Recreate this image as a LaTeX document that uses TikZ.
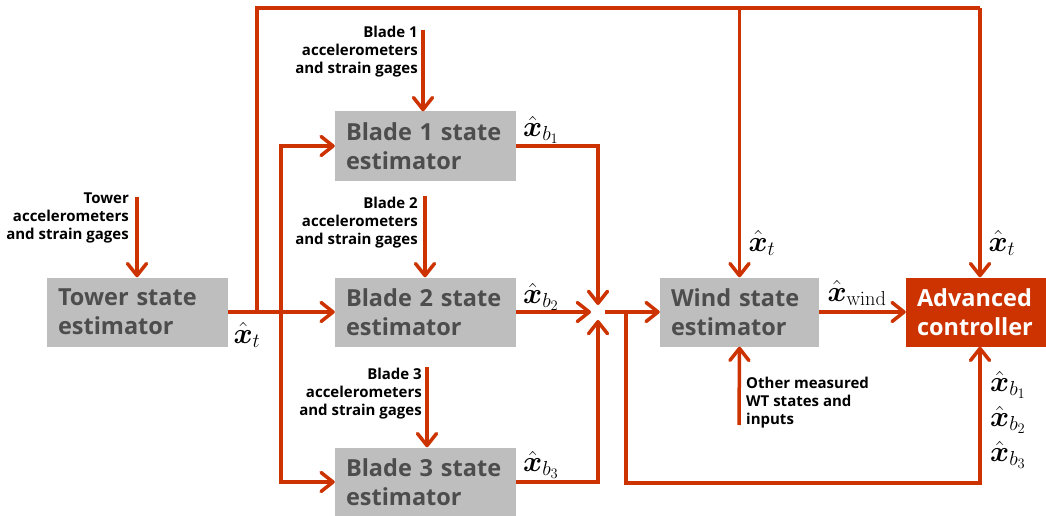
\documentclass[tikz,border=0pt]{standalone}
\usepackage{fix-cm}
\usepackage{amsmath}
\usepackage[no-math]{fontspec}
\setmainfont{Open Sans}
\usetikzlibrary{arrows.meta}
\definecolor{wtred}{RGB}{204,51,0}
\definecolor{boxgray}{RGB}{190,190,190}
\definecolor{boxtext}{RGB}{77,77,77}
\tikzset{
 box/.style={fill=boxgray,text=boxtext,font=\fontsize{23.5}{29}\selectfont\bfseries,align=left,inner xsep=11pt,inner ysep=0pt,minimum height=69pt,anchor=center},
 ctrlbox/.style={box,fill=wtred,text=white},
 sig/.style={draw=wtred,line width=3.5pt},
 arr/.style={sig,-{Straight Barb[length=12pt,width=19pt,round]}},
 sensor/.style={font=\fontsize{15}{18}\selectfont\bfseries,inner sep=0pt,text=black},
 mlab/.style={font=\fontsize{29}{30}\selectfont,inner sep=0pt},
}
\begin{document}
\begin{tikzpicture}[x=1pt,y=-1pt]
\useasboundingbox (0,0) rectangle (1046,516);
% boxes
\node[box,text width=159pt] (tower) at (137.5,312) {Tower state\\estimator};
\node[box,text width=159pt] (b1) at (425.5,146) {Blade 1 state\\estimator};
\node[box,text width=159pt] (b2) at (425.5,312) {Blade 2 state\\estimator};
\node[box,text width=159pt] (b3) at (425.5,482) {Blade 3 state\\estimator};
\node[box,text width=137pt] (wind) at (739.5,312) {Wind state\\estimator};
\node[ctrlbox,text width=118pt] (ctrl) at (976,312) {Advanced\\controller};
% sensor labels
\node[sensor,anchor=north east,align=right] (tl) at (129,193) {Tower\\accelerometers\\and strain gages};
\node[sensor,anchor=north east,align=right] (b1l) at (418,26) {Blade 1\\accelerometers\\and strain gages};
\node[sensor,anchor=north east,align=right] (b2l) at (418,197) {Blade 2\\accelerometers\\and strain gages};
\node[sensor,anchor=north east,align=right] (b3l) at (422,368) {Blade 3\\accelerometers\\and strain gages};
\node[sensor,anchor=north west,align=left] (wl) at (746,377) {Other measured\\WT states and\\inputs};
% sensor arrows
\coordinate (ts) at (137,197);
\coordinate (b1s) at (423,30);
\coordinate (b2s) at (425,196);
\coordinate (b3s) at (427,367);
\coordinate (ws) at (739,425);
\draw[arr] (ts) -- (ts |- tower.north);
\draw[arr] (b1s) -- (b1s |- b1.north);
\draw[arr] (b2s) -- (b2s |- b2.north);
\draw[arr] (b3s) -- (b3s |- b3.north);
\draw[arr] (ws) -- (wind.south);
% tower outputs
\coordinate (up) at (257,312);
\coordinate (topL) at (257,8);
\coordinate (topR) at (980,8);
\coordinate (vL) at (281,312);
\draw[arr] (tower.east) -- (b2.west);
\draw[sig] (up) -- (topL) -- (topR);
\draw[arr] (topR) -- (topR |- ctrl.north);
\draw[arr] (wind.north |- topL) -- (wind.north);
\draw[arr] (vL) |- (b1.west);
\draw[arr] (vL) |- (b3.west);
% blade outputs to junction
\coordinate (j) at (598,312);
\draw[arr] (b1.east) -| ([yshift=7pt]j);
\draw[arr] (b2.east) -- ([xshift=-7pt]j);
\draw[arr] (b3.east) -| ([yshift=-8pt]j);
\coordinate (jo) at (605,312);
\draw[arr] (jo) -- (wind.west);
\coordinate (br) at (626,312);
\coordinate (bl) at (626,483);
\coordinate (brr) at (980,483);
\draw[arr] (br) -- (bl) -- (brr) -- (brr |- ctrl.south);
\draw[arr] (wind.east) -- (ctrl.west);
% math labels
\node[mlab] (mt1) at (247,335) {$\hat{\boldsymbol{x}}_t$};
\node[mlab] (mb1) at (541,130) {$\hat{\boldsymbol{x}}_{b_1}$};
\node[mlab] (mb2) at (541,297) {$\hat{\boldsymbol{x}}_{b_2}$};
\node[mlab] (mb3) at (541,465) {$\hat{\boldsymbol{x}}_{b_3}$};
\node[mlab] (mt2) at (762,243) {$\hat{\boldsymbol{x}}_t$};
\node[mlab] (mw) at (857,293) {$\hat{\boldsymbol{x}}_{\mathrm{wind}}$};
\node[mlab] (mt3) at (1002,243) {$\hat{\boldsymbol{x}}_t$};
\node[mlab] (mc1) at (1008,385) {$\hat{\boldsymbol{x}}_{b_1}$};
\node[mlab] (mc2) at (1008,420) {$\hat{\boldsymbol{x}}_{b_2}$};
\node[mlab] (mc3) at (1008,455) {$\hat{\boldsymbol{x}}_{b_3}$};
\end{tikzpicture}
\end{document}
